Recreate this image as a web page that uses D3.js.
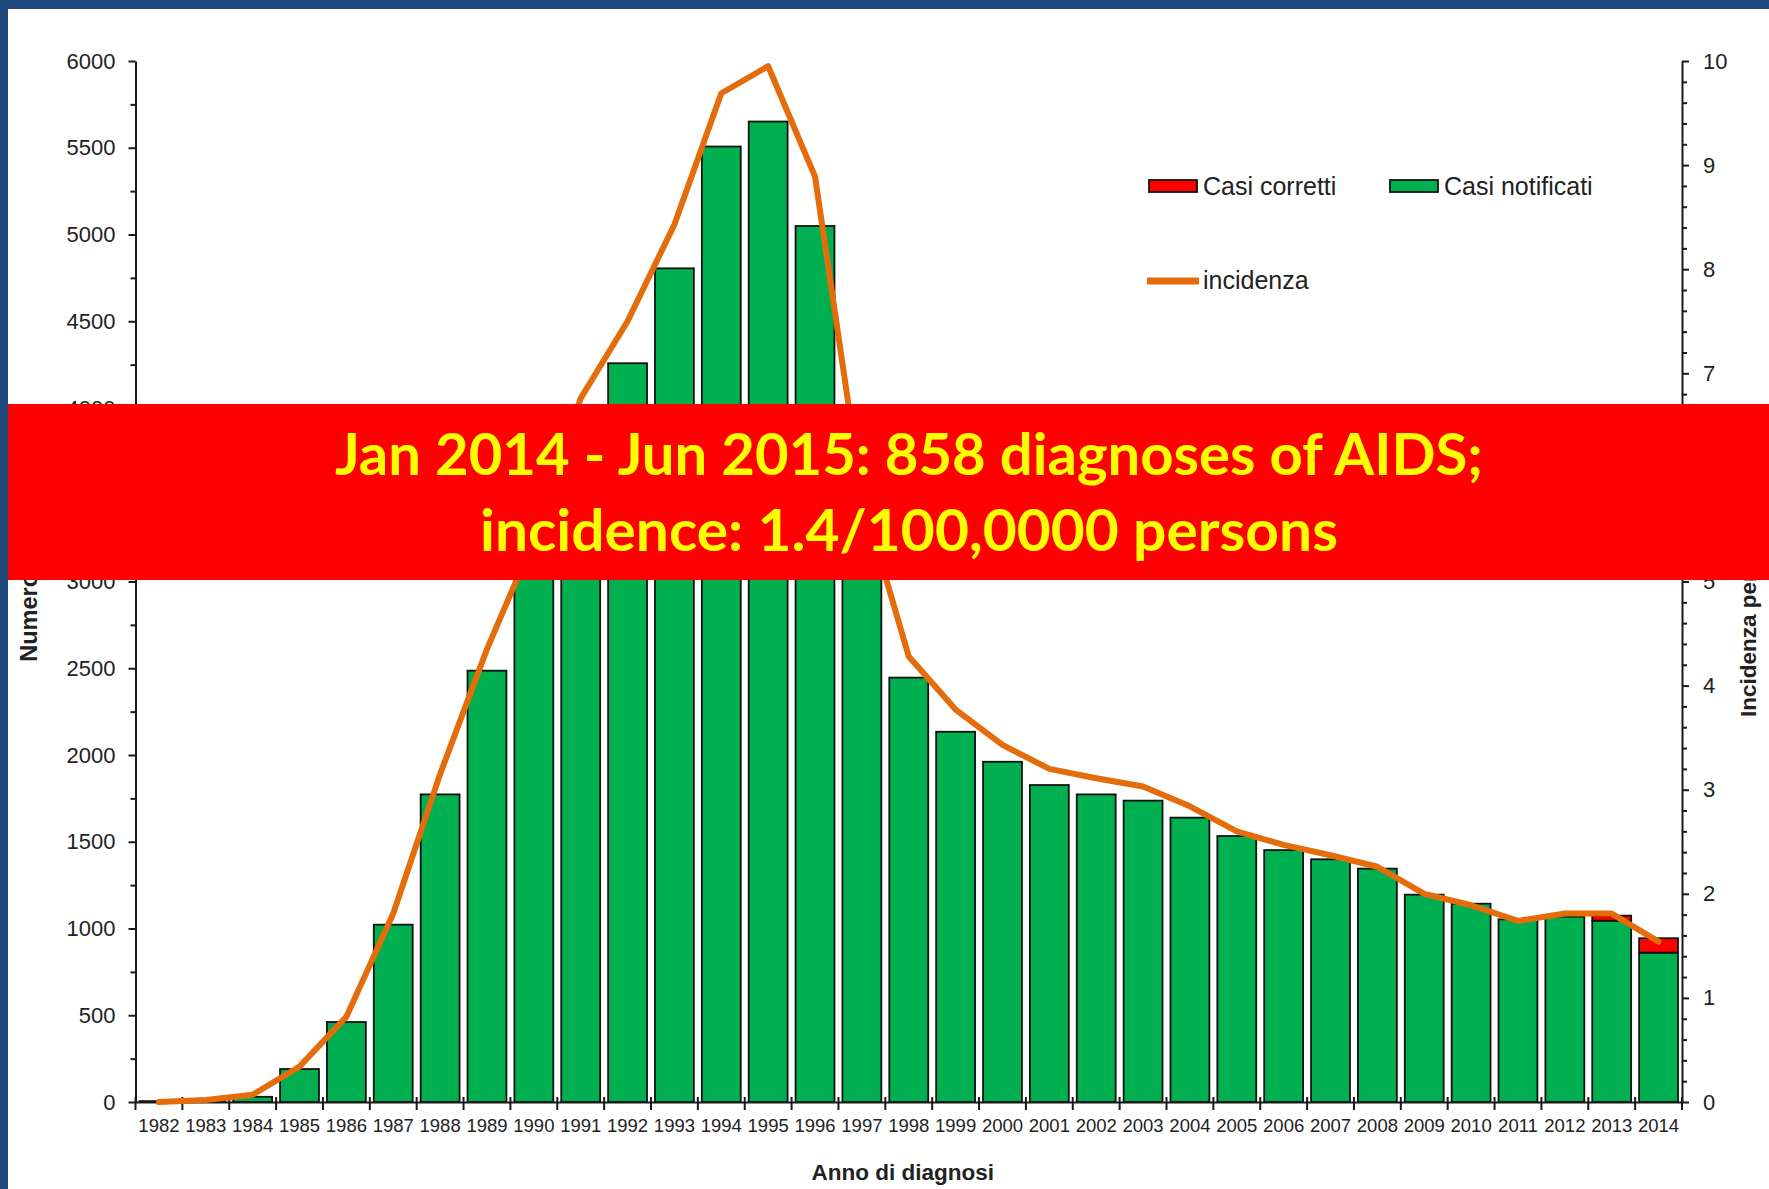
<!DOCTYPE html>
<html>
<head>
<meta charset="utf-8">
<script src="https://cdn.jsdelivr.net/npm/d3@7"></script>
<style>
  body { margin: 0; background: #fff; }
  svg { display: block; }
</style>
</head>
<body>
<svg id="chart"></svg>
<script>
// ---- data ----
const years = [1982, 1983, 1984, 1985, 1986, 1987, 1988, 1989, 1990, 1991, 1992,
    1993, 1994, 1995, 1996, 1997, 1998, 1999, 2000, 2001, 2002, 2003,
    2004, 2005, 2006, 2007, 2008, 2009, 2010, 2011, 2012, 2013, 2014];

const casiNotificati = [5, 10, 30, 190, 461, 1022, 1773, 2486, 3070, 3840, 4258,
    4805, 5507, 5651, 5049, 3310, 2446, 2134, 1961, 1827, 1773, 1737,
    1639, 1533, 1452, 1399, 1345, 1195, 1143, 1053, 1068, 1045, 861];

const casiCorretti = [0, 0, 0, 0, 0, 0, 0, 0, 0, 0, 0,
    0, 0, 0, 0, 0, 0, 0, 0, 0, 0, 0,
    0, 0, 0, 0, 0, 0, 0, 0, 0, 29, 83];

// incidenza per 100.000
const incidenza = [0.0, 0.02, 0.07, 0.34, 0.82, 1.81, 3.15, 4.35, 5.40, 6.76, 7.50,
    8.43, 9.69, 9.95, 8.89, 5.82, 4.28, 3.77, 3.43, 3.20, 3.11, 3.03,
    2.84, 2.60, 2.47, 2.37, 2.26, 2.00, 1.89, 1.74, 1.81, 1.81, 1.54];

const leftTicks = [0, 500, 1000, 1500, 2000, 2500, 3000, 3500, 4000, 4500, 5000, 5500, 6000];
const rightTicks = [0, 1, 2, 3, 4, 5, 6, 7, 8, 9, 10];

const bannerLines = ["Jan 2014 - Jun 2015: 858 diagnoses of AIDS;",
    "incidence: 1.4/100,0000 persons"];

// ---- svg ----
const svgW = 1769, svgH = 1189;
const plotL = 135.5, plotR = 1682, plotT = 61, plotB = 1102;

const green = "#00B050", red = "#FF0000", orange = "#E46C0A";
const font = "'Liberation Sans', Arial, sans-serif";

const svg = d3.select("#chart")
    .attr("width", svgW)
    .attr("height", svgH)
    .style("font-family", font);

svg.append("rect").attr("width", svgW).attr("height", svgH).attr("fill", "#fff");

const xScale = d3.scaleBand()
    .domain(years)
    .range([plotL, plotR])
    .paddingInner(0.17)
    .paddingOuter(0.085);

const yLeft = d3.scaleLinear().domain([0, 6000]).range([plotB, plotT]);
const yRight = d3.scaleLinear().domain([0, 10]).range([plotB, plotT]);

const rows = years.map((y, i) => ({
    year: y,
    notificati: casiNotificati[i],
    corretti: casiCorretti[i],
    inc: incidenza[i]
}));

// bars: notified cases, corrected cases stacked on top
const bars = svg.append("g");
bars.selectAll("rect.not")
    .data(rows)
    .enter()
    .append("rect")
    .attr("class", "not")
    .attr("x", d => xScale(d.year))
    .attr("y", d => yLeft(d.notificati))
    .attr("width", xScale.bandwidth())
    .attr("height", d => yLeft(0) - yLeft(d.notificati))
    .attr("fill", green)
    .attr("stroke", "#111")
    .attr("stroke-width", 1.8);

bars.selectAll("rect.cor")
    .data(rows.filter(d => d.corretti > 0))
    .enter()
    .append("rect")
    .attr("class", "cor")
    .attr("x", d => xScale(d.year))
    .attr("y", d => yLeft(d.notificati + d.corretti))
    .attr("width", xScale.bandwidth())
    .attr("height", d => yLeft(d.notificati) - yLeft(d.notificati + d.corretti))
    .attr("fill", red)
    .attr("stroke", "#111")
    .attr("stroke-width", 1.8);

// ---- axes ----
const axisColor = "#1a1a1a";

// left
const gLeft = svg.append("g")
    .attr("transform", `translate(${plotL},0)`)
    .call(d3.axisLeft(yLeft).tickValues(leftTicks).tickFormat(d3.format("d"))
        .tickSize(7).tickSizeOuter(0).tickPadding(13));
svg.append("g")
    .attr("transform", `translate(${plotL},0)`)
    .call(d3.axisLeft(yLeft).tickValues(leftTicks.slice(1).map(v => v - 250)).tickSize(5).tickFormat(""))
    .call(g => g.select(".domain").remove());

// right
const gRight = svg.append("g")
    .attr("transform", `translate(${plotR},0)`)
    .call(d3.axisRight(yRight).tickValues(rightTicks).tickFormat(d3.format("d"))
        .tickSize(7).tickSizeOuter(0).tickPadding(14));
svg.append("g")
    .attr("transform", `translate(${plotR},0)`)
    .call(d3.axisRight(yRight).tickValues(yRight.ticks(50).filter(v => Math.abs(v - Math.round(v)) > 0.01)).tickSize(5).tickFormat(""))
    .call(g => g.select(".domain").remove());

// bottom: labels under the bars, ticks on the band boundaries
const gBottom = svg.append("g")
    .attr("transform", `translate(0,${plotB})`)
    .call(d3.axisBottom(xScale).tickSize(0).tickSizeOuter(0).tickPadding(17));

const step = xScale.step();
const bounds = years.map((y, i) => plotL + i * step).concat([plotR]);
svg.append("g")
    .selectAll("line")
    .data(bounds)
    .enter()
    .append("line")
    .attr("x1", d => d).attr("x2", d => d)
    .attr("y1", plotB - 5).attr("y2", plotB + 8)
    .attr("stroke", axisColor)
    .attr("stroke-width", 2);

svg.selectAll(".domain, .tick line")
    .attr("stroke", axisColor)
    .attr("stroke-width", 2);

gLeft.selectAll("text").attr("font-size", 22).attr("fill", "#222").attr("font-family", font);
gRight.selectAll("text").attr("font-size", 22).attr("fill", "#222").attr("font-family", font);
gBottom.selectAll("text").attr("font-size", 18.5).attr("fill", "#222").attr("font-family", font);

// ---- incidence line ----
const line = d3.line()
    .x(d => xScale(d.year) + xScale.bandwidth() / 2)
    .y(d => yRight(d.inc));

svg.append("path")
    .datum(rows)
    .attr("d", line)
    .attr("fill", "none")
    .attr("stroke", orange)
    .attr("stroke-width", 6)
    .attr("stroke-linejoin", "round")
    .attr("stroke-linecap", "round");

// ---- axis titles ----
svg.append("text")
    .attr("x", (plotL + plotR) / 2 - 6)
    .attr("y", 1180)
    .attr("text-anchor", "middle")
    .attr("font-size", 22.5)
    .attr("font-weight", "bold")
    .attr("fill", "#222")
    .text("Anno di diagnosi");

svg.append("text")
    .attr("transform", `translate(37,${(plotT + plotB) / 2 - 4}) rotate(-90)`)
    .attr("text-anchor", "middle")
    .attr("font-size", 23.5)
    .attr("font-weight", "bold")
    .attr("fill", "#222")
    .text("Numero di casi");

svg.append("text")
    .attr("transform", "translate(1756,717) rotate(-90)")
    .attr("text-anchor", "start")
    .attr("font-size", 22.5)
    .attr("font-weight", "bold")
    .attr("fill", "#222")
    .text("Incidenza per 100.000");

// ---- legend ----
const legend = svg.append("g").attr("font-size", 25).attr("fill", "#222");
legend.append("rect").attr("x", 1149).attr("y", 180).attr("width", 48).attr("height", 12)
    .attr("fill", red).attr("stroke", "#111").attr("stroke-width", 1.8);
legend.append("text").attr("x", 1203).attr("y", 195).text("Casi corretti");
legend.append("rect").attr("x", 1390).attr("y", 180).attr("width", 48).attr("height", 12)
    .attr("fill", green).attr("stroke", "#111").attr("stroke-width", 1.8);
legend.append("text").attr("x", 1444).attr("y", 195).text("Casi notificati");
legend.append("line").attr("x1", 1147).attr("x2", 1199).attr("y1", 281).attr("y2", 281)
    .attr("stroke", orange).attr("stroke-width", 7);
legend.append("text").attr("x", 1203).attr("y", 289).text("incidenza");

// ---- red banner over the chart ----
svg.append("rect")
    .attr("x", 0).attr("y", 404)
    .attr("width", svgW).attr("height", 176)
    .attr("fill", "#FF0000");

const bannerWidths = [1148, 858];
const bannerBase = [475, 551];
bannerLines.forEach((t, i) => {
    svg.append("text")
        .attr("x", 909)
        .attr("y", bannerBase[i])
        .attr("text-anchor", "middle")
        .attr("font-family", "Lato, 'Open Sans', sans-serif")
        .attr("font-weight", "bold")
        .attr("font-size", 57)
        .attr("fill", "#FFFF00")
        .attr("textLength", bannerWidths[i])
        .attr("lengthAdjust", "spacingAndGlyphs")
        .text(t);
});

// ---- slide frame ----
svg.append("rect").attr("x", 0).attr("y", 0).attr("width", svgW).attr("height", 9).attr("fill", "#1F497D");
svg.append("rect").attr("x", 0).attr("y", 0).attr("width", 8).attr("height", svgH).attr("fill", "#1F497D");
</script>
</body>
</html>
